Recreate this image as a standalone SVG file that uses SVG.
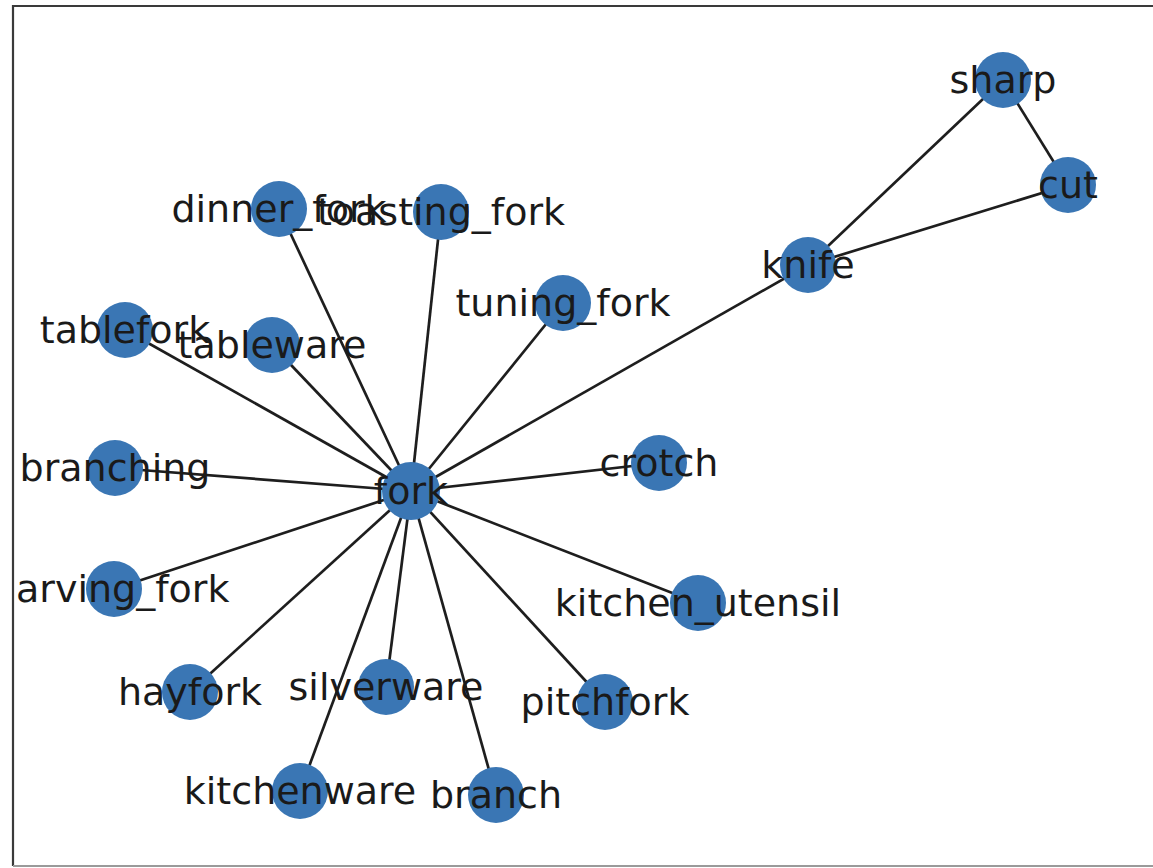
<svg xmlns="http://www.w3.org/2000/svg" width="1153" height="868" viewBox="0 0 1153 868">
<style>
.e{stroke:#1e1e1e;stroke-width:2.7;fill:none}
.n{fill:#3a76b4}
.t{font-family:"DejaVu Sans",sans-serif;font-size:38px;fill:#1a1a1a;text-anchor:middle}
</style>
<rect x="0" y="0" width="1153" height="868" fill="#fff"/>
<g id="frame" fill="none" stroke-width="2.2">
<polyline points="13,866 13,6 1153,6" stroke="#3a3a3a"/>
<line x1="13" y1="866" x2="1153" y2="866" stroke="#9a9a9a"/>
</g>
<g id="edges">
<line class="e" x1="411" y1="491" x2="808" y2="265"/>
<line class="e" x1="411" y1="491" x2="279" y2="209"/>
<line class="e" x1="411" y1="491" x2="441" y2="212"/>
<line class="e" x1="411" y1="491" x2="563" y2="303"/>
<line class="e" x1="411" y1="491" x2="272" y2="345"/>
<line class="e" x1="411" y1="491" x2="125" y2="330"/>
<line class="e" x1="411" y1="491" x2="115" y2="468"/>
<line class="e" x1="411" y1="491" x2="659" y2="463"/>
<line class="e" x1="411" y1="491" x2="114" y2="589"/>
<line class="e" x1="411" y1="491" x2="698" y2="603"/>
<line class="e" x1="411" y1="491" x2="190" y2="692"/>
<line class="e" x1="411" y1="491" x2="386" y2="687"/>
<line class="e" x1="411" y1="491" x2="605" y2="702"/>
<line class="e" x1="411" y1="491" x2="300" y2="791"/>
<line class="e" x1="411" y1="491" x2="496" y2="795"/>
<line class="e" x1="808" y1="265" x2="1003" y2="80"/>
<line class="e" x1="808" y1="265" x2="1068" y2="185"/>
<line class="e" x1="1003" y1="80" x2="1068" y2="185"/>
</g>
<g id="node-fork"><circle class="n" cx="411" cy="491" r="29"/></g>
<g id="node-knife"><circle class="n" cx="808" cy="265" r="28"/></g>
<g id="node-sharp"><circle class="n" cx="1003" cy="80" r="28"/></g>
<g id="node-cut"><circle class="n" cx="1068" cy="185" r="28"/></g>
<g id="node-dinner_fork"><circle class="n" cx="279" cy="209" r="28"/></g>
<g id="node-toasting_fork"><circle class="n" cx="441" cy="212" r="28"/></g>
<g id="node-tuning_fork"><circle class="n" cx="563" cy="303" r="28"/></g>
<g id="node-tableware"><circle class="n" cx="272" cy="345" r="28"/></g>
<g id="node-tablefork"><circle class="n" cx="125" cy="330" r="28"/></g>
<g id="node-branching"><circle class="n" cx="115" cy="468" r="28"/></g>
<g id="node-crotch"><circle class="n" cx="659" cy="463" r="28"/></g>
<g id="node-carving_fork"><circle class="n" cx="114" cy="589" r="28"/></g>
<g id="node-kitchen_utensil"><circle class="n" cx="698" cy="603" r="28"/></g>
<g id="node-hayfork"><circle class="n" cx="190" cy="692" r="28"/></g>
<g id="node-silverware"><circle class="n" cx="386" cy="687" r="28"/></g>
<g id="node-pitchfork"><circle class="n" cx="605" cy="702" r="28"/></g>
<g id="node-kitchenware"><circle class="n" cx="300" cy="791" r="28"/></g>
<g id="node-branch"><circle class="n" cx="496" cy="795" r="28"/></g>
<g id="labels">
<text class="t" x="411" y="504">fork</text>
<text class="t" x="808" y="278">knife</text>
<text class="t" x="1003" y="93">sharp</text>
<text class="t" x="1068" y="198">cut</text>
<text class="t" x="279" y="222">dinner_fork</text>
<text class="t" x="441" y="225">toasting_fork</text>
<text class="t" x="563" y="316">tuning_fork</text>
<text class="t" x="272" y="358">tableware</text>
<text class="t" x="125" y="343">tablefork</text>
<text class="t" x="115" y="481">branching</text>
<text class="t" x="659" y="476">crotch</text>
<text class="t" x="16" y="602" style="text-anchor:start">arving_fork</text>
<text class="t" x="698" y="616">kitchen_utensil</text>
<text class="t" x="190" y="705">hayfork</text>
<text class="t" x="386" y="700">silverware</text>
<text class="t" x="605" y="715">pitchfork</text>
<text class="t" x="300" y="804">kitchenware</text>
<text class="t" x="496" y="808">branch</text>
</g>
</svg>
